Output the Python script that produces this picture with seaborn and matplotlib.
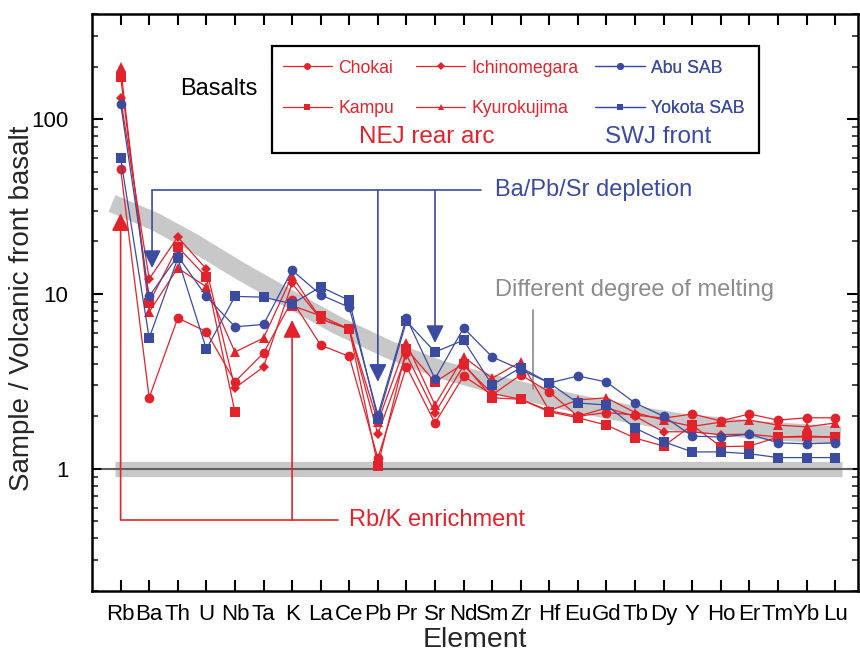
import numpy as np
import pandas as pd
import matplotlib
matplotlib.use("Agg")
import matplotlib.pyplot as plt
import seaborn as sns
from matplotlib.lines import Line2D
from matplotlib.patches import Rectangle

# ---- data (sample / volcanic front basalt) ----
elements = ['Rb', 'Ba', 'Th', 'U', 'Nb', 'Ta', 'K', 'La', 'Ce', 'Pb', 'Pr', 'Sr', 'Nd',
            'Sm', 'Zr', 'Hf', 'Eu', 'Gd', 'Tb', 'Dy', 'Y', 'Ho', 'Er', 'Tm', 'Yb', 'Lu']

chokai = [52, 2.55, 7.3, 6.1, 3.15, 4.6, 9.2, 5.1, 4.4, 1.15, 3.85, 1.83, 3.4,
          2.65, 3.45, 2.75, 2.0, 2.1, 2.03, 1.95, 2.06, 1.88, 2.06, 1.9, 1.96, 1.96]
ichinomegara = [132, 12.2, 21.2, 13.9, 2.9, 3.83, 11.5, 7.2, 6.3, 1.58, 4.5, 2.09, 3.9,
                2.7, 2.5, 2.15, 2.0, 2.23, 2.0, 1.63, 1.63, 1.57, 1.58, 1.52, 1.52, 1.52]
kampu = [175, 8.9, 18.6, 12.5, 2.12, np.nan, 8.6, 7.5, 6.3, 1.04, 4.85, 3.14, 4.0,
         2.55, 2.5, 2.12, 1.96, 1.78, 1.5, 1.35, 1.78, 1.34, 1.35, 1.52, 1.54, 1.52]
kyurokujima = [198, 7.9, 14.1, 11.0, 4.66, 5.6, 12.7, 7.2, 6.3, 1.85, 5.25, 2.32, 4.37,
               3.3, 4.1, 2.15, 2.48, 2.55, 2.1, 1.9, 1.75, 1.85, 1.9, 1.78, 1.74, 1.83]
abu_sab = [123, 9.7, 16.5, 9.7, 6.5, 6.7, 13.7, 9.9, 8.4, 2.03, 7.3, 3.27, 6.4,
           4.37, 3.7, 3.1, 3.4, 3.14, 2.38, 2.0, 1.54, 1.52, 1.58, 1.41, 1.39, 1.41]
yokota_sab = [60, 5.6, 16.0, 4.85, 9.7, 9.6, 8.8, 11.0, 9.2, 1.93, 7.0, 4.66, 5.45,
              3.02, 3.8, 3.1, 2.38, 2.32, 1.71, 1.43, 1.25, 1.25, 1.22, 1.16, 1.16, 1.16]

sites = ['Chokai', 'Ichinomegara', 'Kampu', 'Kyurokujima', 'Abu SAB', 'Yokota SAB']
series = [chokai, ichinomegara, kampu, kyurokujima, abu_sab, yokota_sab]

# "different degree of melting" guide band (x position, value)
melt_x = [0.70, 2.2, 3.6, 5.2, 6.9, 8.6, 10.4, 12.2, 13.9, 15.5, 17.1, 18.8, 20.6, 23.4, 26.2]
melt_y = [33, 26.0, 19.5, 13.5, 9.4, 6.6, 4.8, 3.7, 3.1, 2.68, 2.34, 2.06, 1.84, 1.66, 1.55]

RED = '#E3232C'
BLUE = '#3B4BA0'
colors = {'Chokai': RED, 'Ichinomegara': RED, 'Kampu': RED, 'Kyurokujima': RED,
          'Abu SAB': BLUE, 'Yokota SAB': BLUE}
markers = {'Chokai': 'o', 'Ichinomegara': 'D', 'Kampu': 's', 'Kyurokujima': '^',
           'Abu SAB': 'o', 'Yokota SAB': 's'}

# long-form table; a missing value starts a new line segment
rows = []
for site, vals in zip(sites, series):
    seg = 0
    for i, v in enumerate(vals):
        if np.isnan(v):
            seg += 1
            continue
        rows.append({'pos': i + 1, 'value': v, 'site': site, 'seg': f'{site}-{seg}'})
df = pd.DataFrame(rows)

sns.set_theme(style='ticks')
plt.rcParams['font.family'] = ['Liberation Sans', 'DejaVu Sans']

fig = plt.figure(figsize=(8.6, 6.6), dpi=100)
ax = fig.add_axes([0.107, 0.1045, 0.8907, 0.8742])

# reference line at 1 and melting band
ax.plot([0.81, 26.23], [1, 1], color='#c8c8c8', lw=11, solid_capstyle='butt', zorder=1)
ax.plot([0.35, 26.58], [1, 1], color='#606060', lw=1.5, zorder=1.5)
ax.plot(melt_x, melt_y, color='#c8c8c8', lw=13, solid_capstyle='butt',
        solid_joinstyle='round', zorder=1)

sns.lineplot(data=df, x='pos', y='value', hue='site', style='site', units='seg',
             estimator=None, sort=False, palette=colors, markers=markers, dashes=False,
             markersize=7, linewidth=0.9, markeredgewidth=0, legend=False, ax=ax,
             zorder=3)
# diamonds a bit smaller
for ln in ax.get_lines():
    if ln.get_marker() == 'D':
        ln.set_markersize(4.8)

ax.set_yscale('log')
ax.set_ylim(0.2, 400)
ax.set_xlim(0, 26.8)
ax.set_xticks(range(1, len(elements) + 1))
ax.set_xticklabels(elements)
ax.set_yticks([1, 10, 100])
ax.set_yticklabels(['1', '10', '100'])
ax.set_xlabel('Element', fontsize=20.5, labelpad=2)
ax.set_ylabel('Sample / Volcanic front basalt', fontsize=20)
ax.yaxis.set_label_coords(-0.074, 0.49)

for sp in ax.spines.values():
    sp.set_visible(True)
    sp.set_linewidth(1.8)
    sp.set_color('black')
ax.tick_params(axis='both', which='major', direction='in', length=8, width=1.5,
               labelsize=16, top=True, right=True, pad=9, colors='black')
ax.tick_params(axis='y', which='minor', direction='in', length=4, width=1.2,
               right=True, left=True)
ax.tick_params(axis='y', which='major', pad=17)
ax.tick_params(axis='x', which='minor', bottom=False, top=False)

# Ba/Pb/Sr depletion bracket
br_y = 39.3
ax.plot([2.1, 13.6], [br_y, br_y], color=BLUE, lw=1.2, zorder=4)
for xa, tip in [(2.1, 14.1), (10.0, 3.15), (12.0, 5.25)]:
    ax.annotate('', xy=(xa, tip), xytext=(xa, br_y),
                arrowprops=dict(arrowstyle='-|>,head_length=0.9,head_width=0.45',
                                color=BLUE, lw=1.2, shrinkA=0, shrinkB=0), zorder=4)
ax.text(14.1, br_y, 'Ba/Pb/Sr depletion', color=BLUE, fontsize=17, va='center', ha='left')

# Rb/K enrichment bracket
en_y = 0.51
ax.plot([1, 8.6], [en_y, en_y], color=RED, lw=1.2, zorder=4)
for xa, tip in [(1.0, 29.0), (7.0, 7.1)]:
    ax.annotate('', xy=(xa, tip), xytext=(xa, en_y),
                arrowprops=dict(arrowstyle='-|>,head_length=0.9,head_width=0.45',
                                color=RED, lw=1.2, shrinkA=0, shrinkB=0), zorder=4)
ax.text(9.0, en_y, 'Rb/K enrichment', color=RED, fontsize=17, va='center', ha='left')

# melting label
ax.plot([15.42, 15.42], [8.1, 2.85], color='#8c8c8c', lw=1.2, zorder=2)
ax.text(14.1, 10.6, 'Different degree of melting', color='#8c8c8c', fontsize=17,
        va='center', ha='left')

ax.text(3.08, 150, 'Basalts', color='black', fontsize=17, va='center', ha='left')

# legend box with three columns
ax.add_patch(Rectangle((0.235, 0.759), 0.636, 0.1855, transform=ax.transAxes,
                       fill=False, edgecolor='black', lw=1.6, zorder=5))
col_x = [0.249, 0.423, 0.657]
cols = [['Chokai', 'Kampu'], ['Ichinomegara', 'Kyurokujima'], ['Abu SAB', 'Yokota SAB']]
for cx, names in zip(col_x, cols):
    handles = [Line2D([], [], color=colors[n], marker=markers[n], lw=0.9,
                      markersize=4 if markers[n] == 'D' else 5, markeredgewidth=0)
               for n in names]
    leg = ax.legend(handles, names, loc='upper left', bbox_to_anchor=(cx, 0.921),
                    frameon=False, fontsize=12.7, borderpad=0, borderaxespad=0,
                    handlelength=2.8, handletextpad=0.35, labelspacing=1.35)
    for t, n in zip(leg.get_texts(), names):
        t.set_color(colors[n])
    ax.add_artist(leg)

ax.text(0.437, 0.787, 'NEJ rear arc', transform=ax.transAxes, color=RED, fontsize=17.5,
        ha='center', va='center')
ax.text(0.739, 0.787, 'SWJ front', transform=ax.transAxes, color=BLUE, fontsize=17.5,
        ha='center', va='center')

fig.savefig('out.png', dpi=100)
